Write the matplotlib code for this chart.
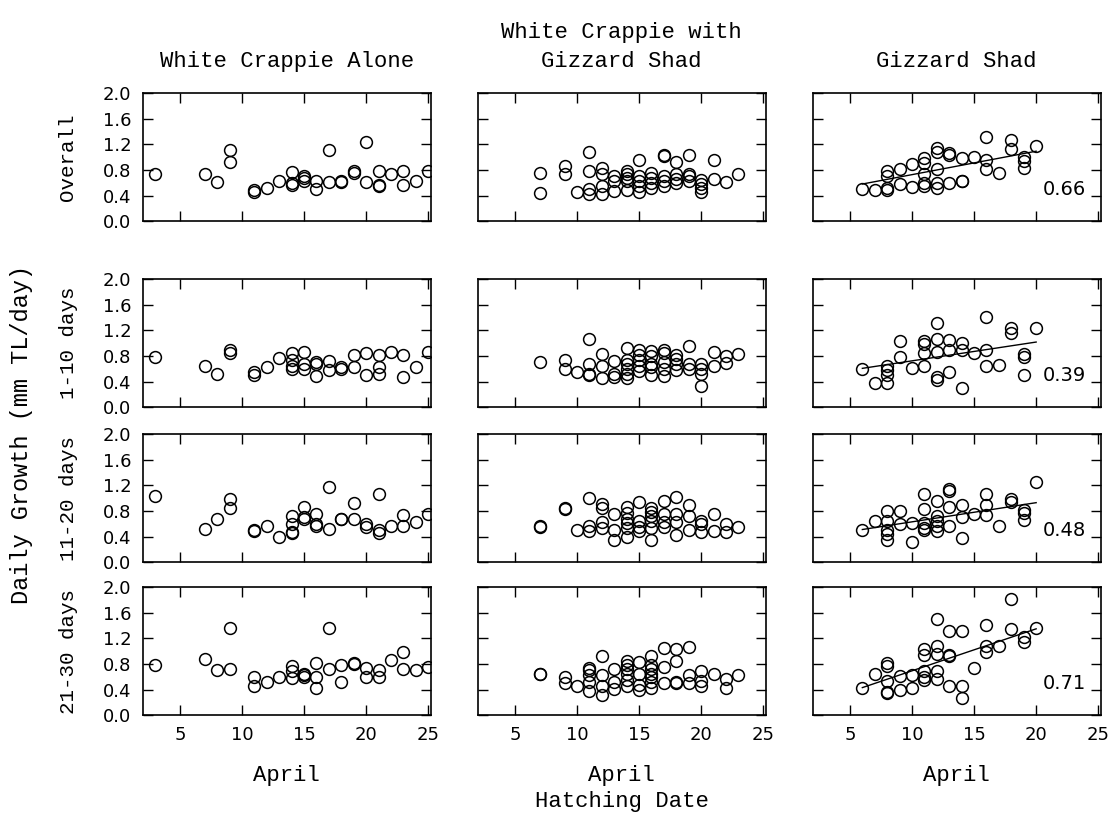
import matplotlib
matplotlib.use("Agg")
import matplotlib.pyplot as plt

# hatching day in April -> daily growth values (mm TL/day), one dict per panel
alone_overall = {3: [0.74], 7: [0.73], 8: [0.61], 9: [1.11, 0.92], 11: [0.48, 0.46],
                 12: [0.52], 13: [0.63], 14: [0.77, 0.60, 0.56], 15: [0.71, 0.67, 0.63],
                 16: [0.63, 0.51], 17: [1.11, 0.61], 18: [0.63, 0.61], 19: [0.78, 0.75],
                 20: [1.24, 0.61], 21: [0.78, 0.57, 0.55], 22: [0.74], 23: [0.79, 0.56],
                 24: [0.63], 25: [0.78]}
with_overall = {7: [0.75, 0.44], 9: [0.86, 0.74], 10: [0.46], 11: [1.08, 0.78, 0.50, 0.43],
                12: [0.83, 0.74, 0.55, 0.43], 13: [0.71, 0.62, 0.47],
                14: [0.78, 0.73, 0.68, 0.62, 0.49], 15: [0.96, 0.70, 0.63, 0.55, 0.46],
                16: [0.75, 0.68, 0.60, 0.52], 17: [1.04, 1.02, 0.70, 0.62, 0.55],
                18: [0.92, 0.74, 0.66, 0.60], 19: [1.04, 0.74, 0.70, 0.63],
                20: [0.65, 0.58, 0.52, 0.46], 21: [0.95, 0.66], 22: [0.61], 23: [0.74]}
shad_overall = {6: [0.51], 7: [0.49], 8: [0.78, 0.70, 0.52, 0.49], 9: [0.82, 0.58],
                10: [0.90, 0.53], 11: [0.98, 0.91, 0.74, 0.60, 0.55],
                12: [1.14, 1.08, 0.82, 0.60, 0.52], 13: [1.06, 1.04, 0.60],
                14: [0.98, 0.63, 0.62], 15: [1.01], 16: [1.31, 0.96, 0.82], 17: [0.76],
                18: [1.27, 1.13], 19: [1.01, 0.94, 0.83], 20: [1.18]}

alone_d1_10 = {3: [0.79], 7: [0.65], 8: [0.52], 9: [0.90, 0.84], 11: [0.55, 0.51],
               12: [0.63], 13: [0.77], 14: [0.85, 0.73, 0.65, 0.60], 15: [0.87, 0.68, 0.60],
               16: [0.71, 0.68, 0.48], 17: [0.72, 0.58], 18: [0.63, 0.59], 19: [0.82, 0.63],
               20: [0.84, 0.50], 21: [0.81, 0.63, 0.52], 22: [0.86], 23: [0.82, 0.47],
               24: [0.62], 25: [0.86]}
with_d1_10 = {7: [0.70], 9: [0.73, 0.59], 10: [0.55], 11: [1.06, 0.67, 0.52, 0.50],
              12: [0.83, 0.65, 0.45], 13: [0.72, 0.52, 0.47],
              14: [0.93, 0.73, 0.67, 0.60, 0.52, 0.45], 15: [0.90, 0.81, 0.73, 0.64, 0.57],
              16: [0.88, 0.80, 0.68, 0.63, 0.50], 17: [0.90, 0.84, 0.71, 0.60, 0.48],
              18: [0.81, 0.76, 0.68, 0.58], 19: [0.95, 0.67, 0.60],
              20: [0.68, 0.60, 0.52, 0.33], 21: [0.87, 0.65], 22: [0.80, 0.69], 23: [0.83]}
shad_d1_10 = {6: [0.60], 7: [0.38], 8: [0.64, 0.58, 0.50, 0.38], 9: [1.03, 0.79], 10: [0.61],
              11: [1.03, 0.99, 0.84, 0.64], 12: [1.32, 1.06, 0.86, 0.47, 0.42],
              13: [1.05, 0.89, 0.55], 14: [1.01, 0.90, 0.30], 15: [0.84],
              16: [1.41, 0.90, 0.64], 17: [0.66], 18: [1.24, 1.16], 19: [0.83, 0.79, 0.50],
              20: [1.24]}

alone_d11_20 = {3: [1.03], 7: [0.52], 8: [0.67], 9: [0.99, 0.85], 11: [0.50, 0.48],
                12: [0.57], 13: [0.39], 14: [0.72, 0.60, 0.47, 0.45], 15: [0.86, 0.71, 0.68],
                16: [0.76, 0.60, 0.57], 17: [1.17, 0.52], 18: [0.68, 0.67], 19: [0.93, 0.68],
                20: [0.59, 0.55], 21: [1.06, 0.50, 0.45], 22: [0.57], 23: [0.74, 0.57],
                24: [0.62], 25: [0.75]}
with_d11_20 = {7: [0.55, 0.56], 9: [0.85, 0.83], 10: [0.50], 11: [1.00, 0.56, 0.49],
               12: [0.91, 0.85, 0.63, 0.54], 13: [0.76, 0.51, 0.34],
               14: [0.86, 0.77, 0.68, 0.61, 0.53, 0.39], 15: [0.94, 0.64, 0.55, 0.48],
               16: [0.84, 0.79, 0.72, 0.64, 0.53, 0.35], 17: [0.95, 0.76, 0.63, 0.55],
               18: [1.02, 0.75, 0.62, 0.42], 19: [0.90, 0.72, 0.51], 20: [0.64, 0.59, 0.47],
               21: [0.76, 0.48], 22: [0.59, 0.47], 23: [0.55]}
shad_d11_20 = {6: [0.51], 7: [0.65], 8: [0.80, 0.65, 0.51, 0.44, 0.34], 9: [0.80, 0.60],
               10: [0.61, 0.31], 11: [1.06, 0.83, 0.61, 0.53, 0.51],
               12: [0.96, 0.72, 0.65, 0.56, 0.48], 13: [1.14, 1.11, 0.87, 0.56],
               14: [0.89, 0.71, 0.37], 15: [0.75], 16: [1.07, 0.89, 0.73], 17: [0.56],
               18: [0.99, 0.94], 19: [0.82, 0.77, 0.66], 20: [1.25]}

alone_d21_30 = {3: [0.79], 7: [0.88], 8: [0.71], 9: [1.36, 0.72], 11: [0.59, 0.46],
                12: [0.52], 13: [0.60], 14: [0.77, 0.69, 0.58], 15: [0.64, 0.62, 0.59],
                16: [0.82, 0.60, 0.43], 17: [1.36, 0.72], 18: [0.79, 0.52], 19: [0.81, 0.80],
                20: [0.74, 0.60], 21: [0.71, 0.60], 22: [0.87], 23: [0.99, 0.72],
                24: [0.70], 25: [0.75]}
with_d21_30 = {7: [0.65, 0.64], 9: [0.59, 0.51], 10: [0.46], 11: [0.74, 0.71, 0.63, 0.52, 0.38],
               12: [0.92, 0.63, 0.45, 0.32], 13: [0.72, 0.52, 0.41],
               14: [0.84, 0.79, 0.72, 0.64, 0.55, 0.46], 15: [0.83, 0.64, 0.47, 0.39],
               16: [0.92, 0.79, 0.72, 0.65, 0.59, 0.52, 0.43], 17: [1.05, 0.76, 0.50],
               18: [1.04, 0.85, 0.52, 0.51], 19: [1.07, 0.63, 0.50], 20: [0.69, 0.53, 0.45],
               21: [0.65], 22: [0.57, 0.43], 23: [0.62]}
shad_d21_30 = {6: [0.43], 7: [0.65], 8: [0.82, 0.77, 0.53, 0.36, 0.34], 9: [0.61, 0.39],
               10: [0.62, 0.43], 11: [1.04, 0.94, 0.69, 0.59, 0.55],
               12: [1.50, 1.08, 0.95, 0.69, 0.57], 13: [1.31, 0.94, 0.92, 0.46],
               14: [1.32, 0.45, 0.27], 15: [0.73], 16: [1.41, 1.08, 0.99], 17: [1.08],
               18: [1.82, 1.35], 19: [1.23, 1.15], 20: [1.36]}

# regression lines in the gizzard shad column (intercept, slope) and r values
shad_fit_intercept = [0.36, 0.43, 0.33, 0.036]
shad_fit_slope = [0.0367, 0.0294, 0.030, 0.0657]
shad_r = ["0.66", "0.39", "0.48", "0.71"]

col_titles = ["White Crappie Alone", "White Crappie with\nGizzard Shad", "Gizzard Shad"]
row_labels = ["Overall", "1-10 days", "11-20 days", "21-30 days"]
panels = [[alone_overall, with_overall, shad_overall],
          [alone_d1_10, with_d1_10, shad_d1_10],
          [alone_d11_20, with_d11_20, shad_d11_20],
          [alone_d21_30, with_d21_30, shad_d21_30]]
yticks = [0.0, 0.4, 0.8, 1.2, 1.6, 2.0]
xticks = [5, 10, 15, 20, 25]

W, H = 1111, 815
fig = plt.figure(figsize=(W / 100, H / 100), dpi=100)
serif_mono = "Liberation Mono"

col_left = [142.7, 477.7, 812.7]
col_w = 288
row_top = [93.3, 279.3, 434.3, 587.3]
row_h = 127.8

for r in range(4):
    for c in range(3):
        ax = fig.add_axes([col_left[c] / W, 1 - (row_top[r] + row_h) / H, col_w / W, row_h / H])
        data = panels[r][c]
        xs = [d for d, vals in data.items() for v in vals]
        ys = [v for d, vals in data.items() for v in vals]
        ax.plot(xs, ys, "o", mfc="none", mec="black", ms=8.5, mew=1.1)
        if c == 2:
            x0, x1 = min(xs), max(xs)
            a, b = shad_fit_intercept[r], shad_fit_slope[r]
            ax.plot([x0, x1], [a + b * x0, a + b * x1], color="black", lw=1.0)
            ax.text(24.0, 0.5, shad_r[r], ha="right", va="center", fontsize=14)
        ax.set_xlim(2, 25.2)
        ax.set_ylim(0, 2.0)
        ax.set_xticks(xticks)
        ax.set_yticks(yticks)
        ax.tick_params(direction="in", top=True, right=True, length=7, width=1,
                       labelsize=13, pad=8)
        for s in ax.spines.values():
            s.set_linewidth(1.2)
        if c == 0:
            ax.set_yticklabels(["%.1f" % t for t in yticks])
        else:
            ax.set_yticklabels([])
        if r == 3:
            ax.set_xticklabels([str(t) for t in xticks])
        else:
            ax.set_xticklabels([])
        if c == 0:
            fig.text(68 / W, 1 - (row_top[r] + row_h / 2) / H, row_labels[r], rotation=90,
                     ha="center", va="center", fontsize=15, family=serif_mono)
        if r == 3:
            fig.text((col_left[c] + col_w / 2) / W, 1 - 775 / H, "April",
                     ha="center", va="center", fontsize=16, family=serif_mono)

for c in range(3):
    fig.text((col_left[c] + col_w / 2) / W, 1 - 72 / H, col_titles[c], ha="center",
             va="bottom", fontsize=16, family=serif_mono, linespacing=1.5)

fig.text((col_left[1] + col_w / 2) / W, 1 - 801 / H, "Hatching Date", ha="center",
         va="center", fontsize=16, family=serif_mono)
fig.text(22 / W, 1 - 435 / H, "Daily Growth (mm TL/day)", rotation=90, ha="center",
         va="center", fontsize=17, family=serif_mono)

fig.savefig("out.png", dpi=100)
